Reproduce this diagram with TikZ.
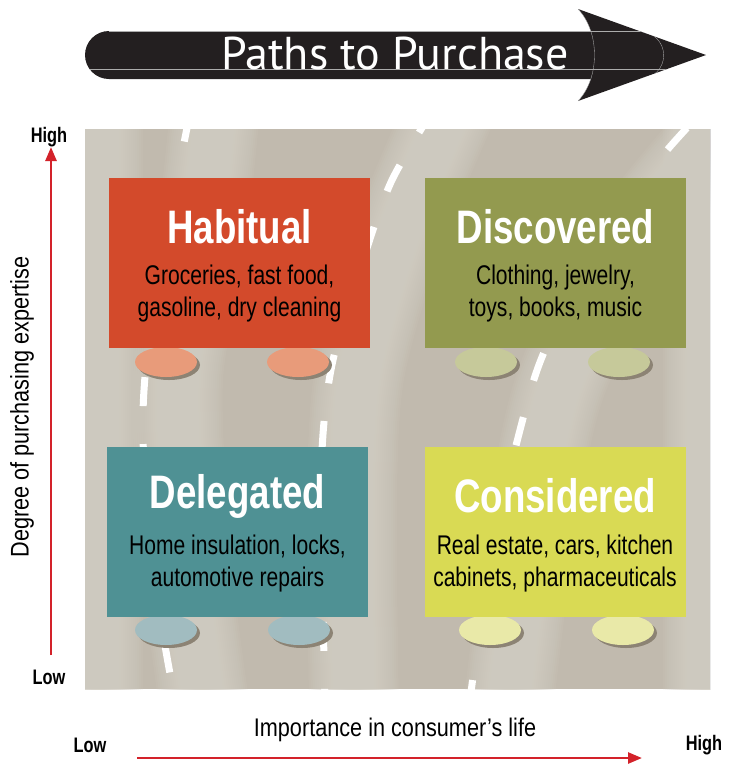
\documentclass[tikz,border=0pt]{standalone}
\usepackage{fontspec}
\setmainfont{Liberation Sans}
\newfontfamily\condfont[FakeStretch=0.78]{Liberation Sans}
\newfontfamily\axisfont[FakeStretch=0.85]{Liberation Sans}
\newfontfamily\titlefont{PT Sans}
\usetikzlibrary{arrows.meta,calc}

\definecolor{inkblack}{HTML}{231F20}
\definecolor{roadbase}{HTML}{C1BAAE}
\definecolor{roadlight}{HTML}{D6D2C8}
\definecolor{axisred}{HTML}{D3222A}
\definecolor{habitualc}{HTML}{D34A2B}
\definecolor{discoveredc}{HTML}{939A4F}
\definecolor{delegatedc}{HTML}{4F9194}
\definecolor{consideredc}{HTML}{D9DA54}
\definecolor{habitualw}{HTML}{E89B7A}
\definecolor{discoveredw}{HTML}{C6C99A}
\definecolor{delegatedw}{HTML}{A1BCC0}
\definecolor{consideredw}{HTML}{E9E9A8}
\definecolor{wheelshadow}{HTML}{8C8374}

\tikzset{
  panelbox/.style={minimum width=261pt, minimum height=170pt, inner sep=0pt, draw=none},
  cardtitle/.style={text=white, font=\condfont\bfseries\fontsize{47}{47}\selectfont},
  cardtext/.style={text=black, align=center, font=\condfont\fontsize{27}{32}\selectfont},
  wheel/.style={x radius=31pt, y radius=15pt},
  lanemark/.style={white, line width=7pt, dash pattern=on 29pt off 38pt},
  softband/.style={roadlight, opacity=0.1},
  guide/.style={gray!65, line width=0.35pt},
  axisarrow/.style={axisred, line width=2.6pt, -{Triangle[length=14pt,width=11pt]}},
  axisend/.style={font=\condfont\bfseries\fontsize{21}{21}\selectfont},
  axisname/.style={font=\axisfont\fontsize{25.5}{25.5}\selectfont},
}

\newcommand{\wheelpair}[3]{%
  % #1,#2: centres of the two wheels, #3: wheel colour
  \fill[wheelshadow] ($(#1)+(3,3)$) ellipse[wheel];
  \fill[#3] (#1) ellipse[wheel];
  \fill[wheelshadow] ($(#2)+(3,3)$) ellipse[wheel];
  \fill[#3] (#2) ellipse[wheel];
}

\begin{document}
\begin{tikzpicture}[x=1pt,y=-1pt]
\useasboundingbox (0,0) rectangle (738,764);
\fill[white] (0,0) rectangle (738,764);

% ---- title arrow (arc angles are in page orientation) ----
\fill[inkblack] (109,31) -- (600,31) -- (600,79) -- (109,79) arc[start angle=270, end angle=90, radius=24pt] -- cycle;
\fill[inkblack] (578,9) .. controls (600,32) and (600,78) .. (578,101) -- (706,55) -- cycle;
\begin{scope}
  \clip (109,31) -- (578,31) -- (578,9) -- (706,55) -- (578,101) -- (578,79) -- (109,79) arc[start angle=270, end angle=90, radius=24pt] -- cycle;
  \draw[guide] (109,31.6) -- (640,31.6);
  \draw[guide] (80,69) -- (710,69);
  \draw[guide] (640,31.6) arc[start angle=90, end angle=-90, radius=23.7pt];
  \draw[guide] (578,9) .. controls (600,32) and (600,78) .. (578,101);
\end{scope}
\node[text=white, font=\titlefont\fontsize{46}{46}\selectfont] (title) at (395,53) {Paths to Purchase};

% ---- road surface ----
\begin{scope}
\clip (85,129) rectangle (710,689);
\fill[roadbase] (85,129) rectangle (710,689);
\foreach \w in {6,10,...,90} {
  \draw[softband, line width=\w pt] (98,110) -- (98,710);
  \draw[softband, line width=\w pt] plot[smooth] coordinates {(450,110) (400,230) (360,370) (352,500) (354,710)};
  \draw[softband, line width=\w pt] plot[smooth] coordinates {(215,110) (200,250) (178,380) (186,560) (205,710)};
  \draw[softband, line width=\w pt] plot[smooth] coordinates {(740,110) (640,230) (562,380) (532,520) (508,710)};
  \draw[softband, line width=\w pt] (708,110) -- (708,710);
}
% lane markings
\draw[lanemark, dash phase=5pt] plot[smooth] coordinates {(189,118) (175,190) (150,330) (143,440) (158,600) (175,700)};
\draw[lanemark, dash phase=12pt] plot[smooth] coordinates {(428,118) (392,180) (368,245) (333,360) (322,450) (322,560) (325,700)};
\draw[lanemark, dash phase=45pt] plot[smooth] coordinates {(702,112) (655,165) (600,250) (545,350) (520,430) (490,560) (470,700)};
\end{scope}

% ---- wheels ----
\wheelpair{166,362}{298,362}{habitualw}
\wheelpair{486,362}{619,362}{discoveredw}
\wheelpair{166,630}{299,630}{delegatedw}
\wheelpair{490,630}{623,630}{consideredw}

% ---- cards ----
\node[panelbox, fill=habitualc]   (habitual)   at (239.5,263) {};
\node[panelbox, fill=discoveredc] (discovered) at (555.5,263) {};
\node[panelbox, fill=delegatedc]  (delegated)  at (237.5,532) {};
\node[panelbox, fill=consideredc] (considered) at (555,532) {};

\node[cardtitle] (habitualT)   at (239.5,227) {Habitual};
\node[cardtitle] (discoveredT) at (555.5,227) {Discovered};
\node[cardtitle] (delegatedT)  at (237.5,496) {Delegated};
\node[cardtitle] (consideredT) at (555,496) {Considered};

\node[cardtext] (habitualL)   at (239.5,294) {Groceries, fast food,\\gasoline, dry cleaning};
\node[cardtext] (discoveredL) at (555.5,294) {Clothing, jewelry,\\toys, books, music};
\node[cardtext] (delegatedL)  at (237.5,564) {Home insulation, locks,\\automotive repairs};
\node[cardtext] (consideredL) at (555,564) {Real estate, cars, kitchen\\cabinets, pharmaceuticals};

% ---- vertical axis ----
\coordinate (vlow) at (51,655);
\coordinate (vhigh) at (51,147);
\draw[axisarrow] (vlow) -- (vhigh);
\node[axisend] (vHigh) at (49,137) {High};
\node[axisend] (vLow) at (49,677) {Low};
\node[axisname, rotate=90] (vname) at (22,407) {Degree of purchasing expertise};

% ---- horizontal axis ----
\coordinate (hlow) at (137,758);
\coordinate (hhigh) at (642,758);
\draw[axisarrow] (hlow) -- (hhigh);
\node[axisend] (hLow) at (90,745) {Low};
\node[axisend] (hHigh) at (704,745) {High};
\node[axisname] (hname) at (395,730) {Importance in consumer’s life};
\end{tikzpicture}
\end{document}
